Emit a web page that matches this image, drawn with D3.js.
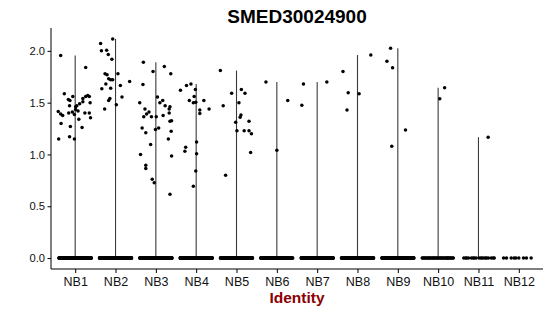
<!DOCTYPE html>
<html>
<head>
<meta charset="utf-8">
<script src="https://cdn.jsdelivr.net/npm/d3@7"></script>
<style>
  body { margin: 0; background: #fff; }
  svg { font-family: "Liberation Sans", Arial, sans-serif; }
</style>
</head>
<body>
<svg id="chart" width="550" height="316"></svg>
<script>
// clusters on the x axis
var idents = ['NB1','NB2','NB3','NB4','NB5','NB6','NB7','NB8','NB9','NB10','NB11','NB12'];
var yTicks = [0, 0.5, 1.0, 1.5, 2.0];

// number of cells with zero expression per cluster
var zeroCounts = [300, 260, 260, 250, 210, 120, 200, 200, 150, 35, 18, 9];

// non-zero cells: [expression, jitter in band units]
var nb1 = [[1.955,-0.36],[1.84,0.26],[1.585,-0.27],[1.56,-0.06],[1.53,-0.17],[1.52,-0.13],[1.54,0.19],
  [1.57,0.31],[1.56,0.26],[1.56,0.35],[1.47,-0.14],[1.47,0.04],[1.49,0.11],[1.51,0.19],[1.50,0.37],
  [1.415,-0.42],[1.39,-0.36],[1.375,-0.31],[1.40,-0.16],[1.41,-0.07],[1.46,0.01],[1.435,0.01],
  [1.42,0.07],[1.34,0.09],[1.385,-0.02],[1.40,0.24],[1.40,0.35],[1.355,0.38],[1.30,-0.35],
  [1.27,-0.12],[1.26,0.17],[1.15,-0.41],[1.17,-0.14],[1.15,-0.02]];
var nb2 = [[2.07,-0.37],[2.00,-0.35],[2.005,-0.22],[2.115,-0.07],[1.965,-0.18],[1.92,-0.09],
  [1.78,-0.26],[1.77,-0.21],[1.78,0.06],[1.73,-0.17],[1.72,-0.12],[1.72,-0.07],[1.68,-0.24],
  [1.64,-0.12],[1.635,-0.34],[1.665,0.12],[1.705,0.35],[1.555,0.16],[1.54,-0.14],[1.52,-0.17],
  [1.44,-0.27],[1.48,0.02]];
var nb3 = [[1.89,-0.31],[1.85,0.21],[1.80,-0.07],[1.78,0.37],[1.675,-0.32],[1.555,0.04],[1.52,0.17],
  [1.50,0.10],[1.50,-0.40],[1.47,0.23],[1.46,0.35],[1.44,0.33],[1.44,-0.27],[1.41,-0.17],[1.39,-0.23],
  [1.365,-0.30],[1.365,-0.11],[1.365,0.01],[1.375,0.18],[1.40,0.33],[1.32,0.35],[1.325,0.39],
  [1.255,-0.34],[1.21,-0.25],[1.24,-0.01],[1.255,0.07],[1.225,0.38],[1.15,0.31],[1.095,-0.13],
  [1.00,-0.38],[0.985,0.39],[0.897,-0.25],[0.865,-0.25],[0.76,-0.09],[0.727,-0.04],[0.617,0.35]];
var nb4 = [[1.62,-0.39],[1.665,-0.24],[1.68,-0.13],[1.627,-0.02],[1.56,-0.05],[1.52,-0.17],[1.50,-0.07],
  [1.505,-0.01],[1.52,0.19],[1.43,0.09],[1.395,0.09],[1.44,0.32],[1.12,0.01],[1.07,-0.26],
  [1.03,-0.28],[1.007,0.01],[0.84,-0.01],[0.694,-0.07]];
var nb5 = [[1.81,-0.40],[1.59,-0.12],[1.627,0.12],[1.59,0.21],[1.47,-0.33],[1.50,0.06],[1.38,0.11],
  [1.36,0.09],[1.31,-0.02],[1.32,0.31],[1.23,0.01],[1.23,0.19],[1.23,0.31],[1.20,0.37],[1.02,0.35],
  [0.80,-0.27]];
var nb6 = [[1.70,-0.27],[1.52,0.27],[1.04,0.0]];
var nb7 = [[1.68,-0.34],[1.475,-0.38],[1.70,0.24]];
var nb8 = [[1.80,-0.36],[1.595,-0.23],[1.43,-0.26],[1.585,0.04],[1.96,0.33]];
var nb9 = [[1.90,-0.27],[2.025,-0.18],[1.836,-0.13],[1.235,0.19],[1.08,-0.15]];
var nb10 = [[1.643,0.16],[1.537,0.04]];
var nb11 = [[1.167,0.24]];
var nb12 = [];

var expressed = [nb1,nb2,nb3,nb4,nb5,nb6,nb7,nb8,nb9,nb10,nb11,nb12];

var svg = d3.select('#chart');
var padLeft = 51, padRight = 543, padTop = 28, padBottom = 269;

// flatten into one list of cells
var cells = [];
idents.forEach(function(id, i) {
  // spread zero cells evenly across the jitter width (golden ratio steps)
  for (var k = 0; k < zeroCounts[i]; k++) {
    cells.push({ident: id, value: 0, jit: ((k * 0.618034 + 0.31 * i) % 1) * 0.8 - 0.4});
  }
  expressed[i].forEach(function(d) {
    cells.push({ident: id, value: d[0], jit: d[1]});
  });
});

var maxVal = d3.max(cells, function(d) { return d.value; });
var pad = maxVal * 0.05;

var x = d3.scalePoint().domain(idents).range([padLeft, padRight]).padding(0.6);
var y = d3.scaleLinear().domain([-pad, maxVal + pad]).range([padBottom, padTop]);
var step = x.step();

// violins collapse to a line from 0 to the group max
var vlines = idents.map(function(id, i) {
  var vals = expressed[i].map(function(d) { return d[0]; });
  return {ident: id, max: vals.length ? d3.max(vals) : 0};
}).filter(function(d) { return d.max > 0; });

svg.append('g').selectAll('line')
  .data(vlines)
  .enter().append('line')
  .attr('x1', function(d) { return x(d.ident); })
  .attr('x2', function(d) { return x(d.ident); })
  .attr('y1', y(0))
  .attr('y2', function(d) { return y(d.max); })
  .attr('stroke', '#3a3a3a')
  .attr('stroke-width', 1.1);

svg.append('g').selectAll('circle')
  .data(cells)
  .enter().append('circle')
  .attr('cx', function(d) { return x(d.ident) + d.jit * step; })
  .attr('cy', function(d) { return y(d.value); })
  .attr('r', 1.75)
  .attr('fill', '#000');

// axes
var yAxis = svg.append('g')
  .attr('transform', 'translate(' + padLeft + ',0)')
  .call(d3.axisLeft(y).tickValues(yTicks).tickFormat(d3.format('.1f')).tickSize(3.5).tickPadding(2.5));
yAxis.select('.domain').attr('d', 'M0,' + padBottom + 'V' + padTop);
yAxis.selectAll('text').attr('font-size', 11.2).attr('fill', '#111');

var xAxis = svg.append('g')
  .attr('transform', 'translate(0,' + padBottom + ')')
  .call(d3.axisBottom(x).tickSize(4).tickPadding(4));
xAxis.select('.domain').attr('d', 'M' + padLeft + ',0H' + padRight);
xAxis.selectAll('text').attr('font-size', 12.5).attr('fill', '#111');
svg.selectAll('.domain, .tick line').attr('stroke', '#000').attr('stroke-width', 1);
svg.selectAll('.tick text').attr('font-family', '"Liberation Sans", Arial, sans-serif');

// title and axis label
svg.append('text')
  .attr('x', (padLeft + padRight) / 2).attr('y', 22.7)
  .attr('text-anchor', 'middle')
  .attr('font-size', 19).attr('font-weight', 'bold')
  .text('SMED30024900');

svg.append('text')
  .attr('x', (padLeft + padRight) / 2).attr('y', 303)
  .attr('text-anchor', 'middle')
  .attr('font-size', 15.5).attr('font-weight', 'bold')
  .attr('fill', '#8b0000')
  .text('Identity');
</script>
</body>
</html>
